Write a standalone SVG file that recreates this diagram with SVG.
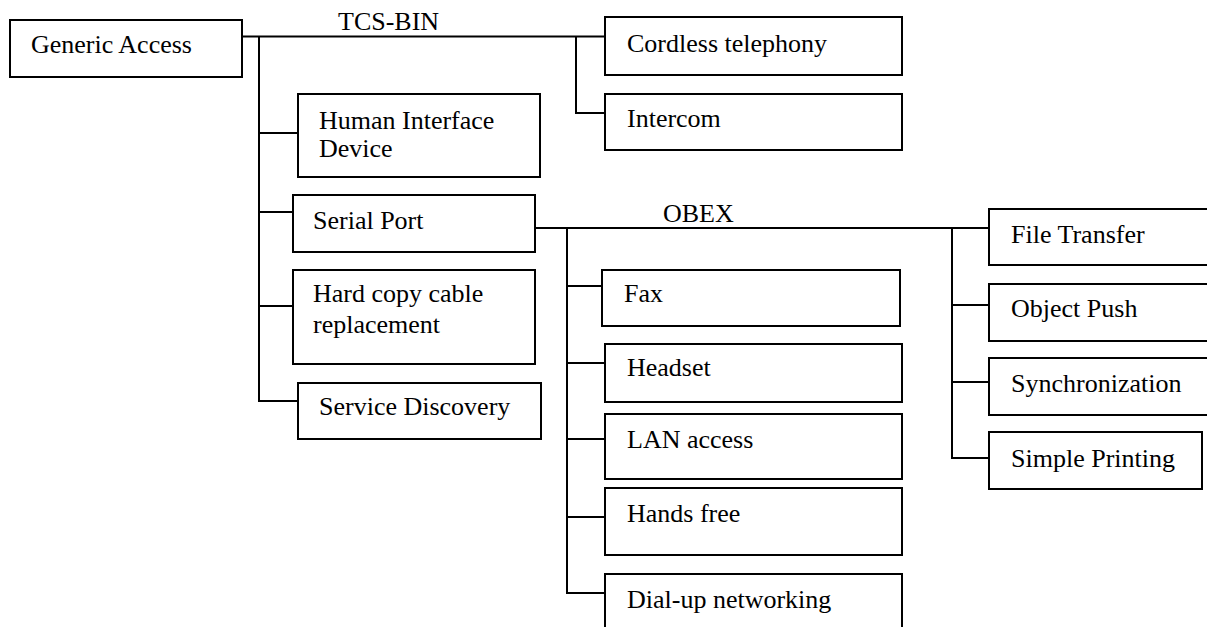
<svg xmlns="http://www.w3.org/2000/svg" width="1207" height="627" viewBox="0 0 1207 627">
<style>
rect{fill:#fff;stroke:#000;stroke-width:2}
.c{fill:none;stroke:#000;stroke-width:2}
text{font-family:'Liberation Serif','Times New Roman','DejaVu Serif',serif;font-size:26px;fill:#000}
</style>
<rect x="0" y="0" width="1207" height="627" style="stroke:none"/>
<g id="connectors">
<path class="c" d="M242 36.5H605M259 36.5V401H298M259 133H298M259 212H293M259 306H293M576 36.5V113H605"/>
<path class="c" d="M535 228H989M567 228V593H605M567 286H602M567 363H605M567 439H605M567 517H605M952 228V458H989M952 305H989M952 382H989"/>
</g>
<g font-family="Liberation Serif, serif">
<text x="338" y="30">TCS-BIN</text>
<text x="663" y="222">OBEX</text>
<g id="generic-access"><rect x="10" y="20" width="232" height="57"/><text x="31" y="53">Generic Access</text></g>
<g id="hid"><rect x="298" y="94" width="242" height="83"/><text x="319" y="129">Human Interface</text><text x="319" y="157">Device</text></g>
<g id="serial-port"><rect x="293" y="195" width="242" height="57"/><text x="313" y="229">Serial Port</text></g>
<g id="hard-copy"><rect x="293" y="270" width="242" height="94"/><text x="313" y="302">Hard copy cable</text><text x="313" y="333">replacement</text></g>
<g id="service-discovery"><rect x="298" y="383" width="243" height="56"/><text x="319" y="415">Service Discovery</text></g>
<g id="cordless"><rect x="605" y="17" width="297" height="58"/><text x="627" y="52">Cordless telephony</text></g>
<g id="intercom"><rect x="605" y="94" width="297" height="56"/><text x="627" y="127">Intercom</text></g>
<g id="fax"><rect x="602" y="270" width="298" height="56"/><text x="624" y="302">Fax</text></g>
<g id="headset"><rect x="605" y="344" width="297" height="58"/><text x="627" y="376">Headset</text></g>
<g id="lan"><rect x="605" y="414" width="297" height="65"/><text x="627" y="448">LAN access</text></g>
<g id="hands-free"><rect x="605" y="488" width="297" height="67"/><text x="627" y="522">Hands free</text></g>
<g id="dialup"><rect x="605" y="574" width="297" height="70"/><text x="627" y="608">Dial-up networking</text></g>
<g id="file-transfer"><rect x="989" y="209" width="230" height="56"/><text x="1011" y="243">File Transfer</text></g>
<g id="object-push"><rect x="989" y="284" width="230" height="57"/><text x="1011" y="317">Object Push</text></g>
<g id="sync"><rect x="989" y="358" width="230" height="57"/><text x="1011" y="392">Synchronization</text></g>
<g id="simple-printing"><rect x="989" y="432" width="213" height="57"/><text x="1011" y="467">Simple Printing</text></g>
</g>
</svg>
